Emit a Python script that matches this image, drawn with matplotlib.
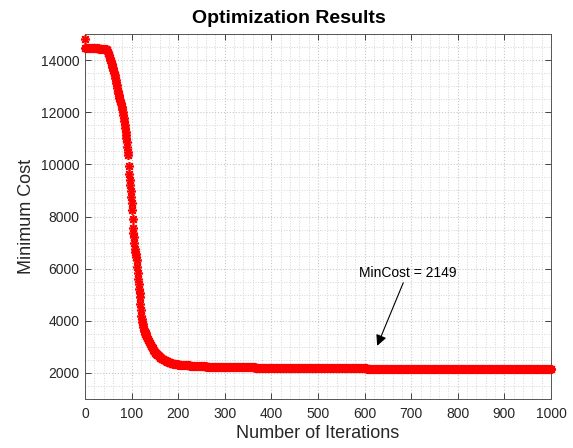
#!/usr/bin/env python3
"""Optimization convergence curve (minimum cost per iteration)."""

import numpy as np
import matplotlib
matplotlib.use("Agg")
import matplotlib.pyplot as plt
from matplotlib.ticker import MultipleLocator

plt.rcParams["font.family"] = ["Liberation Sans", "DejaVu Sans"]

# cost for iterations 0..199
head_cost = [
    14800, 14470, 14470, 14470, 14470, 14470, 14460, 14460, 14460, 14460,
    14450, 14450, 14450, 14450, 14450, 14450, 14450, 14450, 14450, 14450,
    14450, 14450, 14450, 14450, 14450, 14450, 14450, 14450, 14450, 14450,
    14440, 14440, 14440, 14440, 14440, 14440, 14440, 14440, 14440, 14440,
    14430, 14430, 14430, 14420, 14420, 14420, 14410, 14400, 14380, 14330,
    14270, 14210, 14150, 14080, 14010, 13960, 13910, 13860, 13800, 13740,
    13680, 13620, 13560, 13500, 13430, 13330, 13230, 13130, 13030, 12930,
    12830, 12750, 12680, 12610, 12540, 12480, 12420, 12360, 12300, 12220,
    12120, 12020, 11900, 11780, 11650, 11520, 11390, 11260, 11130, 11000,
    10850, 10650, 10480, 10350, 9950, 9650, 9390, 9200, 8980, 8760,
    8500, 8250, 7900, 7550, 7380, 7200, 6980, 6750, 6650, 6550,
    6450, 6350, 6080, 5820, 5600, 5400, 5220, 5060, 4900, 4650,
    4420, 4200, 4080, 3970, 3860, 3760, 3680, 3610, 3550, 3500,
    3520, 3470, 3420, 3380, 3340, 3300, 3260, 3220, 3180, 3140,
    3100, 3070, 3040, 3010, 2980, 2950, 2910, 2880, 2850, 2830,
    2800, 2780, 2760, 2740, 2720, 2700, 2680, 2670, 2650, 2640,
    2620, 2610, 2590, 2580, 2570, 2550, 2540, 2530, 2520, 2510,
    2500, 2490, 2480, 2470, 2460, 2450, 2440, 2430, 2420, 2415,
    2410, 2400, 2395, 2390, 2380, 2375, 2370, 2365, 2360, 2355,
    2350, 2348, 2346, 2344, 2342, 2340, 2338, 2335, 2332, 2330,
]

# flat tail (iterations 200..1000): cost level and how many iterations it holds
tail_levels = [2322, 2314, 2306, 2298, 2290, 2282, 2274, 2266, 2258, 2250,
               2243, 2236, 2229, 2222, 2215, 2208, 2201, 2195, 2189, 2183,
               2177, 2171, 2166, 2161, 2157, 2153, 2149]
tail_counts = [5, 5, 5, 5, 5, 5, 5, 5, 10, 10,
               10, 15, 15, 20, 20, 25, 25, 30, 35, 40,
               50, 60, 70, 70, 80, 90, 86]

min_cost = 2149


def main():
    cost = list(head_cost)
    for lvl, n in zip(tail_levels, tail_counts):
        cost += [lvl] * n
    iters = np.arange(len(cost))

    fig = plt.figure(figsize=(5.73, 4.48), dpi=100)
    ax = fig.add_axes([0.1483, 0.1094, 0.8133, 0.8146])

    ax.plot(iters, cost, linestyle="none", marker=(8, 2, 0), markersize=6.5,
            markeredgewidth=1.2, color="#ff0000", clip_on=False, zorder=3)

    ax.set_xlim(0, 1000)
    ax.set_ylim(1000, 15000)
    ax.xaxis.set_major_locator(MultipleLocator(100))
    ax.xaxis.set_minor_locator(MultipleLocator(20))
    ax.yaxis.set_major_locator(MultipleLocator(2000))
    ax.yaxis.set_minor_locator(MultipleLocator(500))

    ax.grid(which="major", color="#c8c8c8", linestyle=":", linewidth=0.8)
    ax.grid(which="minor", color="#d6d6d6", linestyle=":", linewidth=0.7)
    ax.set_axisbelow(True)

    ax.tick_params(which="major", direction="in", length=4, width=0.6,
                   top=True, right=True, labelsize=10, colors="#262626")
    ax.tick_params(which="minor", length=0)
    ax.tick_params(axis="x", pad=6)
    ax.tick_params(axis="y", pad=4)
    for s in ax.spines.values():
        s.set_color("#555555")
        s.set_linewidth(0.7)

    ax.set_xlabel("Number of Iterations", fontsize=13, color="#262626", labelpad=3)
    ax.set_ylabel("Minimum Cost", fontsize=13, color="#262626", labelpad=4)
    fig.suptitle("Optimization Results", fontsize=14, fontweight="bold",
                 x=0.505, y=0.977)

    # arrow pointing at the converged value
    ax.annotate("", xy=(627, 3040), xytext=(683, 5460),
                arrowprops=dict(arrowstyle="-|>", color="black", lw=0.8,
                                mutation_scale=16, shrinkA=0, shrinkB=0))
    ax.text(692, 5817, f"MinCost = {min_cost}", fontsize=10,
            ha="center", va="center")

    fig.savefig("out.png", dpi=100)


if __name__ == "__main__":
    main()
